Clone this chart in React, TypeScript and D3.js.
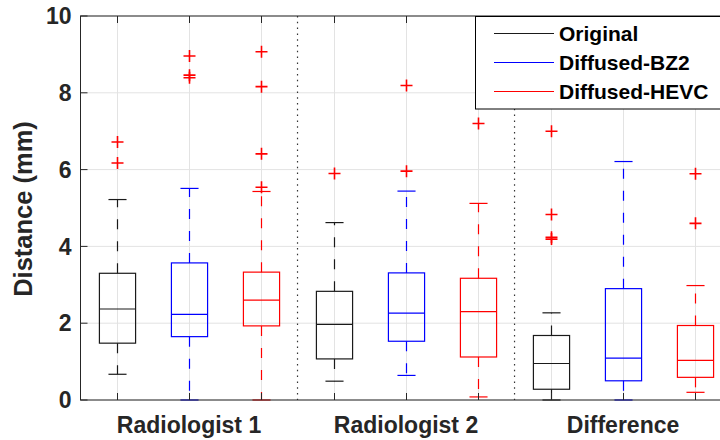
import React, { useRef, useEffect } from 'react';
import * as d3 from 'd3';

// Groups along the x axis and series inside each group
const categories = ['Radiologist 1', 'Radiologist 2', 'Difference'];
const seriesNames = ['Original', 'Diffused-BZ2', 'Diffused-HEVC'];
const seriesColors = ['#1a1a1a', '#0000ff', '#ff0000'];

// Box statistics per series, one value per group
const lowerWhisker = [
  [0.67, 0.49, 0],
  [0, 0.64, 0],
  [0, 0.08, 0.2],
];
const q1 = [
  [1.48, 1.07, 0.28],
  [1.65, 1.53, 0.5],
  [1.93, 1.12, 0.59],
];
const median = [
  [2.37, 1.97, 0.95],
  [2.23, 2.26, 1.09],
  [2.6, 2.3, 1.03],
];
const q3 = [
  [3.3, 2.83, 1.68],
  [3.57, 3.31, 2.9],
  [3.33, 3.17, 1.94],
];
const upperWhisker = [
  [5.22, 4.62, 2.27],
  [5.51, 5.44, 6.21],
  [5.43, 5.12, 2.98],
];
const outliers = [
  [[6.72, 6.17], [5.9], [7.0, 4.83, 4.24, 4.19]],
  [[8.96, 8.46, 8.39], [8.19, 5.96], []],
  [[9.07, 8.16, 6.41, 5.54], [7.2], [5.89, 4.6]],
];

const yTicks = [0, 2, 4, 6, 8, 10];
const separators = [3.5, 6.5];

const FONT = '"Liberation Sans", Arial, Helvetica, sans-serif';
const AXIS_COLOR = '#262626';

const BoxChart = () => {
  const ref = useRef<SVGSVGElement | null>(null);

  useEffect(() => {
    const el = ref.current;
    if (!el) return;
    const svg = d3.select(el);
    svg.selectAll('*').remove();

    const width = 720;
    const height = 440;
    const margin = { top: 16, left: 80.5, bottom: 400 };
    const step = 72.34;

    const x = d3.scaleLinear().domain([0.5, 9.5]).range([margin.left, margin.left + step * 9]);
    const y = d3.scaleLinear().domain([0, 10]).range([margin.bottom, margin.top]);
    const boxW = x(1.25) - x(1);
    const capW = x(1.125) - x(1);

    const positions = d3.range(1, 10);

    // grid
    const grid = svg.append('g').attr('stroke', '#e3e3e3').attr('stroke-width', 1);
    positions.forEach(p => {
      grid.append('line')
        .attr('x1', Math.round(x(p)) + 0.5).attr('x2', Math.round(x(p)) + 0.5)
        .attr('y1', y(0)).attr('y2', y(10));
    });
    yTicks.forEach(t => {
      grid.append('line')
        .attr('x1', x(0.5)).attr('x2', x(9.5))
        .attr('y1', y(t)).attr('y2', y(t));
    });

    // dotted group separators
    separators.forEach(s => {
      svg.append('line')
        .attr('x1', x(s)).attr('x2', x(s))
        .attr('y1', y(10)).attr('y2', y(0))
        .attr('stroke', '#333')
        .attr('stroke-width', 1.2)
        .attr('stroke-dasharray', '1.5,4.3');
    });

    // boxes
    seriesNames.forEach((name, s) => {
      const color = seriesColors[s];
      categories.forEach((cat, g) => {
        const p = g * 3 + s + 1;
        const cx = Math.round(x(p)) + 0.5;
        const grp = svg.append('g').attr('stroke', color).attr('fill', 'none').attr('stroke-width', 1.2);

        // whiskers
        grp.append('line')
          .attr('x1', cx).attr('x2', cx)
          .attr('y1', y(q3[s][g])).attr('y2', y(upperWhisker[s][g]))
          .attr('stroke-dasharray', '10,12');
        grp.append('line')
          .attr('x1', cx).attr('x2', cx)
          .attr('y1', y(q1[s][g])).attr('y2', y(lowerWhisker[s][g]))
          .attr('stroke-dasharray', '10,12');
        // caps
        [upperWhisker[s][g], lowerWhisker[s][g]].forEach(v => {
          grp.append('line')
            .attr('x1', cx - capW).attr('x2', cx + capW)
            .attr('y1', y(v)).attr('y2', y(v));
        });
        // box
        grp.append('rect')
          .attr('x', cx - boxW)
          .attr('width', boxW * 2)
          .attr('y', y(q3[s][g]))
          .attr('height', y(q1[s][g]) - y(q3[s][g]));
        // median
        grp.append('line')
          .attr('x1', cx - boxW).attr('x2', cx + boxW)
          .attr('y1', y(median[s][g])).attr('y2', y(median[s][g]));

        // outliers as red plus markers
        outliers[s][g].forEach(v => {
          const oy = y(v);
          svg.append('path')
            .attr('d', `M${cx - 6},${oy}H${cx + 6}M${cx},${oy - 6}V${oy + 6}`)
            .attr('stroke', '#ff0000')
            .attr('stroke-width', 1.6)
            .attr('fill', 'none');
        });
      });
    });

    // axes box
    svg.append('rect')
      .attr('x', x(0.5)).attr('y', y(10))
      .attr('width', x(9.5) - x(0.5)).attr('height', y(0) - y(10))
      .attr('fill', 'none')
      .attr('stroke', AXIS_COLOR)
      .attr('stroke-width', 1);

    // ticks
    const ticks = svg.append('g').attr('stroke', AXIS_COLOR).attr('stroke-width', 1);
    yTicks.forEach(t => {
      ticks.append('line').attr('x1', x(0.5)).attr('x2', x(0.5) + 7).attr('y1', y(t)).attr('y2', y(t));
    });
    positions.forEach(p => {
      const px = Math.round(x(p)) + 0.5;
      ticks.append('line').attr('x1', px).attr('x2', px).attr('y1', y(0)).attr('y2', y(0) - 7);
      ticks.append('line').attr('x1', px).attr('x2', px).attr('y1', y(10)).attr('y2', y(10) + 7);
    });

    // tick labels
    svg.append('g')
      .selectAll('text')
      .data(yTicks)
      .enter()
      .append('text')
      .attr('x', x(0.5) - 9)
      .attr('y', d => y(d))
      .attr('dy', '0.36em')
      .attr('text-anchor', 'end')
      .attr('font-family', FONT)
      .attr('font-weight', 'bold')
      .attr('font-size', 23)
      .attr('fill', AXIS_COLOR)
      .text(d => d);

    svg.append('g')
      .selectAll('text')
      .data(categories)
      .enter()
      .append('text')
      .attr('x', (d, i) => x(i * 3 + 2))
      .attr('y', 433)
      .attr('text-anchor', 'middle')
      .attr('font-family', FONT)
      .attr('font-weight', 'bold')
      .attr('font-size', 23)
      .attr('fill', AXIS_COLOR)
      .text(d => d);

    svg.append('text')
      .attr('transform', 'translate(23,209) rotate(-90)')
      .attr('text-anchor', 'middle')
      .attr('dy', '0.36em')
      .attr('font-family', FONT)
      .attr('font-weight', 'bold')
      .attr('font-size', 25.5)
      .attr('fill', AXIS_COLOR)
      .text('Distance (mm)');

    // legend
    const leg = svg.append('g').attr('transform', 'translate(475.5,16.5)');
    leg.append('rect')
      .attr('width', 280).attr('height', 92.5)
      .attr('fill', '#fff')
      .attr('stroke', '#000')
      .attr('stroke-width', 1);
    seriesNames.forEach((name, i) => {
      const ly = 17 + i * 29;
      leg.append('line')
        .attr('x1', 18.5).attr('x2', 78.5)
        .attr('y1', ly).attr('y2', ly)
        .attr('stroke', seriesColors[i])
        .attr('stroke-width', 1.2);
      leg.append('text')
        .attr('x', 83.5)
        .attr('y', ly)
        .attr('dy', '0.36em')
        .attr('font-family', FONT)
        .attr('font-weight', 'bold')
        .attr('font-size', 21)
        .attr('fill', '#000')
        .text(name);
    });
  }, []);

  return (
    <svg
      ref={ref}
      width={720}
      height={440}
      style={{ position: 'absolute', left: 0, top: 0, background: '#fff', overflow: 'hidden' }}
    />
  );
};

export default function App() {
  return <BoxChart />;
}
